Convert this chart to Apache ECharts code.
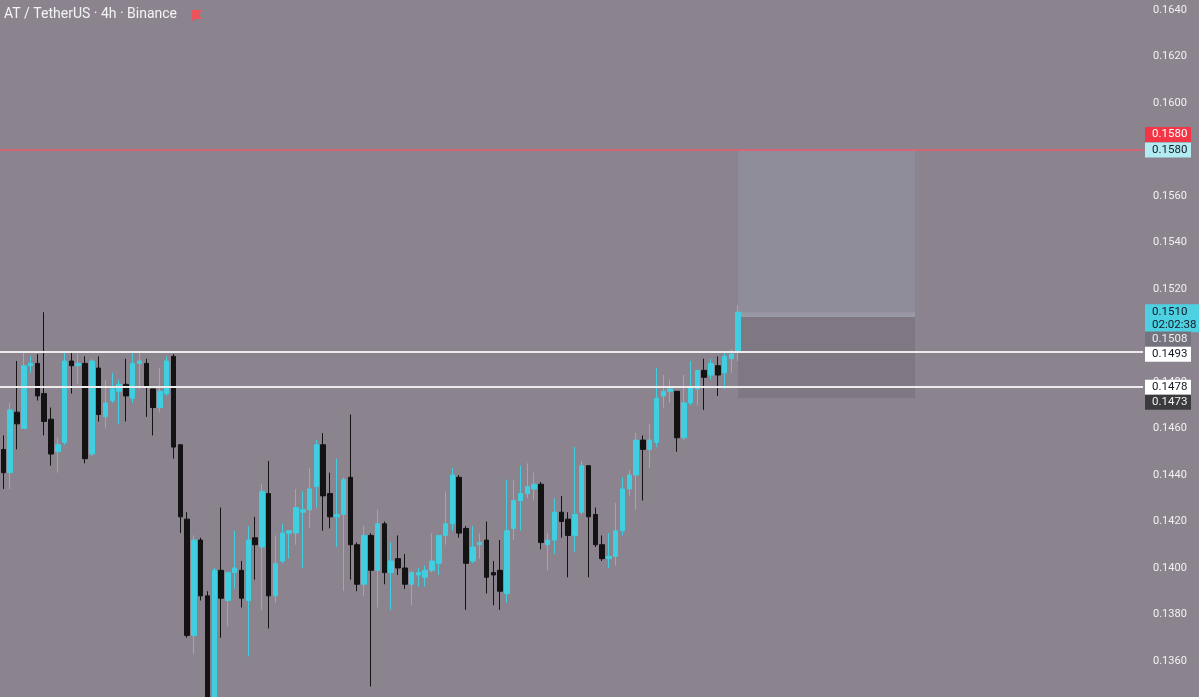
<!DOCTYPE html>
<html>
<head>
<meta charset="utf-8">
<script src="https://cdn.jsdelivr.net/npm/echarts@6/dist/echarts.min.js"></script>
<style>
html,body{margin:0;padding:0;background:#8b848f;}
#c{width:1199px;height:697px;}
</style>
</head>
<body>
<div id="c"></div>
<script>
// ---- data ----
const title = 'AT / TetherUS · 4h · Binance';
const opens = [
0.1451,0.1441,0.1467,0.1460,0.1487,0.1488,0.1475,0.1464,0.1450,0.1454,
0.1489,0.1487,0.1488,0.1449,0.1486,0.1465,0.1472,0.1476,0.1479,0.1473,
0.1488,0.1488,0.1477,0.1469,0.1475,0.1491,0.1453,0.1421,0.1371,0.1412,
0.1388,0.1344,0.1399,0.1386,0.1398,0.1399,0.1386,0.1413,0.1409,0.1432,
0.1388,0.1403,0.1415,0.1415,0.1424,0.1425,0.1435,0.1453,0.1432,0.1422,
0.1423,0.1439,0.1410,0.1393,0.1414,0.1399,0.1419,0.1398,0.1404,0.1400,
0.1393,0.1397,0.1396,0.1399,0.1402,0.1414,0.1419,0.1439,0.1417,0.1403,
0.1410,0.1412,0.1398,0.1399,0.1389,0.1417,0.1429,0.1432,0.1434,0.1436,
0.1410,0.1412,0.1424,0.1421,0.1414,0.1424,0.1444,0.1423,0.1410,0.1404,
0.1405,0.1416,0.1434,0.1440,0.1455,0.1451,0.1454,0.1474,0.1476,0.1476,
0.1456,0.1471,0.1477,0.1485,0.1483,0.1487,0.1484,0.1490,0.1493];
const closes = [
0.1441,0.1468,0.1462,0.1487,0.1488,0.1474,0.1463,0.1449,0.1453,0.1489,
0.1487,0.1488,0.1447,0.1489,0.1466,0.1471,0.1477,0.1479,0.1474,0.1488,
0.1489,0.1478,0.1469,0.1476,0.1489,0.1452,0.1422,0.1371,0.1412,0.1388,
0.1343,0.1399,0.1387,0.1398,0.1400,0.1387,0.1412,0.1410,0.1433,0.1388,
0.1402,0.1415,0.1416,0.1426,0.1425,0.1434,0.1453,0.1431,0.1422,0.1423,
0.1438,0.1410,0.1393,0.1414,0.1399,0.1419,0.1398,0.1403,0.1400,0.1393,
0.1398,0.1398,0.1399,0.1403,0.1414,0.1419,0.1440,0.1415,0.1402,0.1409,
0.1411,0.1396,0.1397,0.1390,0.1416,0.1429,0.1432,0.1435,0.1436,0.1411,
0.1412,0.1424,0.1420,0.1414,0.1423,0.1444,0.1422,0.1410,0.1404,0.1405,
0.1416,0.1434,0.1440,0.1455,0.1451,0.1455,0.1473,0.1476,0.1477,0.1456,
0.1471,0.1478,0.1485,0.1482,0.1488,0.1483,0.1491,0.1492,0.1510];
const highs = [
0.1457,0.1471,0.1489,0.1493,0.1491,0.1492,0.1510,0.1469,0.1456,0.1493,
0.1493,0.1492,0.1491,0.1490,0.1491,0.1481,0.1484,0.1481,0.1490,0.1493,
0.1493,0.1490,0.1477,0.1486,0.1491,0.1492,0.1453,0.1424,0.1414,0.1413,
0.1390,0.1400,0.1426,0.1398,0.1416,0.1403,0.1418,0.1422,0.1436,0.1446,
0.1414,0.1419,0.1416,0.1434,0.1433,0.1443,0.1455,0.1458,0.1441,0.1447,
0.1439,0.1466,0.1411,0.1418,0.1415,0.1425,0.1420,0.1411,0.1414,0.1406,
0.1399,0.1400,0.1401,0.1415,0.1414,0.1433,0.1443,0.1440,0.1418,0.1418,
0.1415,0.1420,0.1403,0.1412,0.1438,0.1438,0.1444,0.1445,0.1441,0.1437,
0.1415,0.1430,0.1431,0.1424,0.1452,0.1446,0.1444,0.1426,0.1414,0.1415,
0.1428,0.1439,0.1442,0.1458,0.1457,0.1462,0.1486,0.1483,0.1481,0.1476,
0.1483,0.1489,0.1485,0.1490,0.1490,0.1491,0.1493,0.1494,0.1513];
const lows = [
0.1434,0.1434,0.1451,0.1460,0.1484,0.1472,0.1457,0.1444,0.1441,0.1453,
0.1475,0.1479,0.1445,0.1448,0.1463,0.1460,0.1471,0.1462,0.1463,0.1471,
0.1477,0.1465,0.1457,0.1467,0.1474,0.1447,0.1415,0.1370,0.1363,0.1386,
0.1340,0.1342,0.1370,0.1375,0.1391,0.1383,0.1362,0.1395,0.1382,0.1374,
0.1385,0.1402,0.1404,0.1410,0.1400,0.1417,0.1426,0.1416,0.1417,0.1409,
0.1390,0.1395,0.1390,0.1388,0.1349,0.1383,0.1393,0.1382,0.1397,0.1391,
0.1384,0.1392,0.1392,0.1398,0.1397,0.1410,0.1416,0.1413,0.1382,0.1402,
0.1404,0.1389,0.1384,0.1382,0.1385,0.1412,0.1416,0.1430,0.1429,0.1408,
0.1399,0.1406,0.1413,0.1396,0.1407,0.1423,0.1396,0.1409,0.1403,0.1400,
0.1401,0.1414,0.1431,0.1425,0.1429,0.1443,0.1452,0.1469,0.1471,0.1450,
0.1455,0.1470,0.1470,0.1468,0.1481,0.1474,0.1477,0.1484,0.1489];
const categoryCount = 168;
const categories = Array.from({length: categoryCount}, (_, i) => String(i));
const yTickLabels = [0.1360,0.1380,0.1400,0.1420,0.1440,0.1460,0.1480,0.1500,
  0.1520,0.1540,0.1560,0.1580,0.1600,0.1620,0.1640];
const yRange = {min: 0.13445, max: 0.16443};
const whiteLevels = [0.1493, 0.1478];
const targetLevel = 0.1580;
const entryLevel = 0.1508;
const stopLevel = 0.1473;
const lastPrice = 0.1510;
const countdown = '02:02:38';
const positionStart = '108';
const positionEnd = '134';

// ---- styles ----
const UP = '#3fcfe0', DOWN = '#131313';
const candleData = opens.map((o, i) => [o, closes[i], lows[i], highs[i]]);

const chart = echarts.init(document.getElementById('c'), null, {renderer: 'canvas'});
const option = {
  backgroundColor: '#8b848f',
  animation: false,
  title: {
    text: title, left: 4, top: 7, padding: 0,
    textStyle: {color: '#f4f4f4', fontSize: 14, fontWeight: 'normal', fontFamily: 'Roboto'}
  },
  grid: {left: 0, width: 1143, top: 0, height: 697, outerBoundsMode: 'none', containLabel: false},
  xAxis: {
    type: 'category', data: categories, boundaryGap: true,
    axisLine: {show: false}, axisTick: {show: false}, axisLabel: {show: false}, splitLine: {show: false}
  },
  yAxis: {
    type: 'value', position: 'right', min: yRange.min, max: yRange.max,
    axisLine: {show: false}, axisTick: {show: false}, splitLine: {show: false},
    axisLabel: {
      customValues: yTickLabels,
      color: '#f2f2f2', fontSize: 11, fontFamily: 'Roboto', margin: 10, align: 'left',
      formatter: v => v.toFixed(4)
    }
  },
  series: [{
    type: 'candlestick',
    data: candleData,
    barWidth: 5,
    itemStyle: {color: UP, color0: DOWN, borderColor: UP, borderColor0: DOWN, borderWidth: 1},
    markArea: {
      silent: true,
      data: [
        [{xAxis: positionStart, yAxis: targetLevel, itemStyle: {color: '#8f8d99'}}, {xAxis: positionEnd, yAxis: lastPrice}],
        [{xAxis: positionStart, yAxis: lastPrice, itemStyle: {color: '#9899a4'}}, {xAxis: positionEnd, yAxis: entryLevel}],
        [{xAxis: positionStart, yAxis: entryLevel, itemStyle: {color: '#7f7781'}}, {xAxis: positionEnd, yAxis: stopLevel}]
      ]
    },
    markLine: {
      silent: true, symbol: ['none', 'none'], label: {show: false}, precision: 4,
      data: [
        {yAxis: whiteLevels[0], lineStyle: {color: '#ececec', width: 2, type: 'solid'}},
        {yAxis: whiteLevels[1], lineStyle: {color: '#ececec', width: 2, type: 'solid'}},
        {yAxis: targetLevel, lineStyle: {color: '#ee5a6c', width: 1.5, type: 'solid', opacity: 1}}
      ]
    }
  }]
};
chart.setOption(option);

// price-scale label boxes, placed through the axis scale
const boxes = [
  {v: targetLevel, text: targetLevel.toFixed(4), bg: '#f23645', fg: '#ffffff', dy: -15, h: 15, w: 46},
  {v: targetLevel, text: targetLevel.toFixed(4), bg: '#b2ebf2', fg: '#131722', dy: 0.5, h: 15, w: 46},
  {v: lastPrice, text: lastPrice.toFixed(4) + '\n' + countdown, bg: '#4dd0e1', fg: '#131722', dy: 6, h: 28, w: 54},
  {v: entryLevel, text: entryLevel.toFixed(4), bg: '#75737d', fg: '#f0f0f0', dy: 22, h: 15, w: 46},
  {v: whiteLevels[0], text: whiteLevels[0].toFixed(4), bg: '#ffffff', fg: '#131722', dy: 2.5, h: 15, w: 46},
  {v: whiteLevels[1], text: whiteLevels[1].toFixed(4), bg: '#ffffff', fg: '#131722', dy: 0.5, h: 15, w: 46},
  {v: stopLevel, text: stopLevel.toFixed(4), bg: '#3b3b3d', fg: '#f0f0f0', dy: 4, h: 15, w: 46}
];
const graphics = [];
boxes.forEach(b => {
  const cy = chart.convertToPixel({yAxisIndex: 0}, b.v) + b.dy;
  graphics.push({
    type: 'rect', z: 100,
    shape: {x: 1145, y: cy - b.h / 2, width: b.w, height: b.h},
    style: {fill: b.bg}
  });
  graphics.push({
    type: 'text', z: 101,
    style: {
      text: b.text, x: 1152, y: cy, fill: b.fg,
      font: '11.5px Roboto', verticalAlign: 'middle', align: 'left', lineHeight: 13
    }
  });
});
// red flag next to the title
graphics.push({
  type: 'polygon', z: 100,
  shape: {points: [[192, 10], [202, 10], [198.5, 14.5], [202, 19], [194, 19], [194, 21], [192, 21]]},
  style: {fill: '#f0525a'}
});
chart.setOption({graphic: graphics});
</script>
</body>
</html>
